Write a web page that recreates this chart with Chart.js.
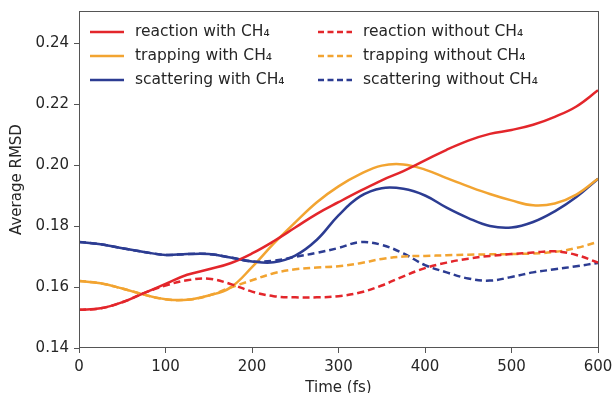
<!DOCTYPE html>
<html>
<head>
<meta charset="utf-8">
<script src="https://cdn.jsdelivr.net/npm/chart.js@4/dist/chart.umd.min.js"></script>
<style>
  html, body { margin: 0; padding: 0; background: #fff; }
  #wrap { width: 614px; height: 393px; }
</style>
</head>
<body>
<div id="wrap"><canvas id="chart" width="614" height="393"></canvas></div>
<script>
  // time grid (fs)
  const times = [0, 25, 50, 75, 100, 125, 150, 175, 200, 225, 250, 275, 300,
    325, 350, 375, 400, 425, 450, 475, 500, 525, 550, 575, 600];

  const reactionWith = [0.1525, 0.153, 0.155, 0.158, 0.161, 0.164, 0.1658, 0.1678, 0.171, 0.175, 0.1795, 0.184, 0.1878,
    0.1915, 0.195, 0.198, 0.2015, 0.205, 0.208, 0.2102, 0.2115, 0.2132, 0.2158, 0.2192, 0.2245];
  const trappingWith = [0.162, 0.1612, 0.1595, 0.1575, 0.156, 0.1558, 0.1572, 0.1598, 0.1665, 0.1742, 0.1812, 0.1878, 0.193,
    0.197, 0.1998, 0.2002, 0.1985, 0.1957, 0.193, 0.1905, 0.1884, 0.1868, 0.1874, 0.1903, 0.1955];
  const scatteringWith = [0.1748, 0.174, 0.1727, 0.1715, 0.1705, 0.1708, 0.1708, 0.1697, 0.1684, 0.1681, 0.1703, 0.1755, 0.1835,
    0.1897, 0.1924, 0.1922, 0.19, 0.186, 0.1826, 0.18, 0.1795, 0.1813, 0.1848, 0.1895, 0.1955];
  const reactionWithout = [0.1525, 0.153, 0.155, 0.158, 0.1605, 0.1622, 0.1627, 0.161, 0.1585, 0.157, 0.1566, 0.1566, 0.157,
    0.1582, 0.1605, 0.1635, 0.1662, 0.168, 0.1693, 0.1702, 0.1708, 0.1713, 0.1717, 0.1705, 0.168];
  const trappingWithout = [0.162, 0.1612, 0.1595, 0.1575, 0.156, 0.1558, 0.1572, 0.1598, 0.1622, 0.1645, 0.1658, 0.1664, 0.1668,
    0.1678, 0.1692, 0.17, 0.1702, 0.1704, 0.1706, 0.1707, 0.1708, 0.171, 0.1715, 0.1728, 0.1748];
  const scatteringWithout = [0.1748, 0.174, 0.1727, 0.1715, 0.1705, 0.1708, 0.1708, 0.1697, 0.1684, 0.1686, 0.1699, 0.1712, 0.1728,
    0.1747, 0.1738, 0.171, 0.1672, 0.1648, 0.1628, 0.1621, 0.1633, 0.1648, 0.1658, 0.1668, 0.1679];

  const yTicks = [0.14, 0.16, 0.18, 0.20, 0.22, 0.24];
  const xTicks = [0, 100, 200, 300, 400, 500, 600];

  const RED = '#e3262b';
  const ORANGE = '#f2a431';
  const BLUE = '#2c3c92';
  const FONT = "'DejaVu Sans', sans-serif";
  const TEXT = '#262626';

  function pts(values) {
    return values.map((v, i) => ({ x: times[i], y: v }));
  }

  function line(label, values, color, dashed) {
    return {
      label,
      data: pts(values),
      borderColor: color,
      backgroundColor: color,
      borderWidth: 2.5,
      borderDash: dashed ? [7, 4] : [],
      pointRadius: 0,
      tension: 0.4,
      fill: false,
    };
  }

  // dashed first so the solid lines sit on top where they overlap
  const datasets = [
    line('reaction without CH\u2084', reactionWithout, RED, true),
    line('trapping without CH\u2084', trappingWithout, ORANGE, true),
    line('scattering without CH\u2084', scatteringWithout, BLUE, true),
    line('reaction with CH\u2084', reactionWith, RED, false),
    line('trapping with CH\u2084', trappingWith, ORANGE, false),
    line('scattering with CH\u2084', scatteringWith, BLUE, false),
  ];

  // two-column legend inside the plot, plus the box around it
  const frameAndLegend = {
    id: 'frameAndLegend',
    afterDraw(chart) {
      const { ctx, chartArea: a } = chart;
      ctx.save();
      ctx.strokeStyle = '#555';
      ctx.lineWidth = 1;
      ctx.strokeRect(a.left + 0.5, a.top + 0.5, a.right - a.left, a.bottom - a.top - 1);

      const cols = [
        { x: a.left + 11, items: [3, 4, 5] },
        { x: a.left + 239, items: [0, 1, 2] },
      ];
      ctx.font = '15.5px ' + FONT;
      ctx.textBaseline = 'middle';
      ctx.fillStyle = TEXT;
      cols.forEach((col) => {
        col.items.forEach((idx, row) => {
          const ds = chart.data.datasets[idx];
          const y = a.top + 21 + row * 24;
          ctx.beginPath();
          ctx.strokeStyle = ds.borderColor;
          ctx.lineWidth = 2.5;
          ctx.setLineDash(ds.borderDash.length ? [6, 3.5] : []);
          ctx.moveTo(col.x, y);
          ctx.lineTo(col.x + 34, y);
          ctx.stroke();
          ctx.setLineDash([]);
          ctx.fillText(ds.label, col.x + 45, y);
        });
      });
      ctx.restore();
    },
  };

  new Chart(document.getElementById('chart'), {
    type: 'line',
    data: { datasets },
    options: {
      responsive: false,
      animation: false,
      layout: { padding: { left: 0, top: 11, right: 16, bottom: 0 } },
      plugins: { legend: { display: false }, tooltip: { enabled: false } },
      scales: {
        x: {
          type: 'linear',
          min: 0,
          max: 600,
          afterBuildTicks: (scale) => { scale.ticks = xTicks.map((v) => ({ value: v })); },
          afterFit: (scale) => {
            scale.height = 45;
            scale.paddingLeft = 0;
            scale.paddingRight = 0;
          },
          grid: { drawOnChartArea: false, drawTicks: true, tickLength: 5, color: '#555' },
          border: { display: false },
          ticks: { color: TEXT, font: { family: FONT, size: 15 }, padding: 5, maxRotation: 0 },
          title: { display: true, text: 'Time (fs)', color: TEXT, font: { family: FONT, size: 15 }, padding: { top: 0, bottom: -4 } },
        },
        y: {
          type: 'linear',
          min: 0.14,
          max: 0.2505,
          afterBuildTicks: (scale) => { scale.ticks = yTicks.map((v) => ({ value: v })); },
          afterFit: (scale) => {
            scale.width = 79;
            scale.paddingTop = 0;
            scale.paddingBottom = 0;
          },
          grid: { drawOnChartArea: false, drawTicks: true, tickLength: 5, color: '#555' },
          border: { display: false },
          ticks: {
            color: TEXT,
            font: { family: FONT, size: 15 },
            padding: 5,
            callback: (v) => Number(v).toFixed(2),
          },
          title: { display: true, text: 'Average RMSD', color: TEXT, font: { family: FONT, size: 15 }, padding: { top: 8, bottom: 0 } },
        },
      },
    },
    plugins: [frameAndLegend],
  });
</script>
</body>
</html>
